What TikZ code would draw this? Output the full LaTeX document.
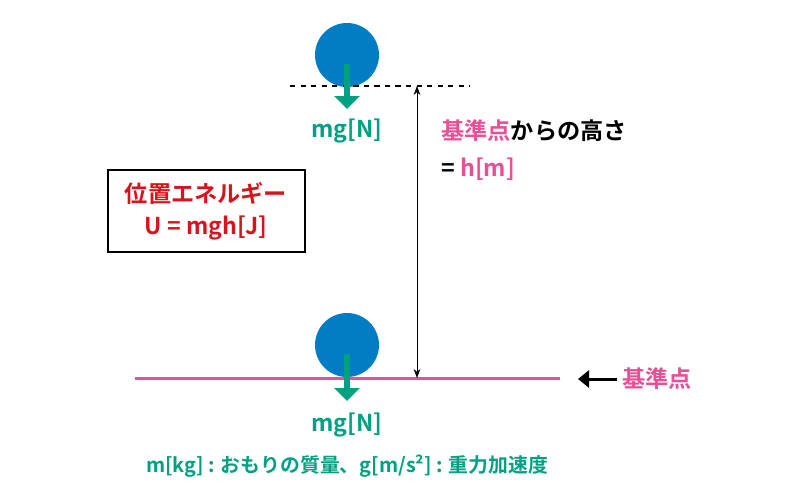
\documentclass[tikz,border=0pt]{standalone}
\usepackage{fontspec}
\setmainfont{Noto Sans CJK JP}[BoldFont={Noto Sans CJK JP Bold}]
\usetikzlibrary{arrows.meta}
\definecolor{ballblue}{RGB}{0,125,197}
\definecolor{forcegreen}{RGB}{0,160,130}
\definecolor{refpink}{RGB}{232,80,150}
\definecolor{titlered}{RGB}{215,20,30}
\tikzset{
  ball/.style={circle,fill=ballblue,minimum size=1.28cm,inner sep=0pt},
  force/.style={forcegreen,line width=1.3mm,-{Triangle[length=2.6mm,width=5mm]}},
  forcelabel/.style={text=forcegreen,font=\bfseries\fontsize{13.2}{15}\selectfont},
  txt/.style={font=\bfseries\fontsize{13.2}{15}\selectfont,inner sep=0pt}
}
\begin{document}
\begin{tikzpicture}[x=0.02cm,y=-0.02cm]
\useasboundingbox (0,0) rectangle (800,500);
% upper weight
\node[ball] (top) at (347,55) {};
\draw[dashed,thick] (290,86) -- (470,86);
\coordinate (topline) at (417,86);
\coordinate (topfrom) at (347,64);
\coordinate (topto) at (347,109);
\draw[force] (topfrom) -- (topto);
\node[forcelabel] (topmg) at (347,131) {mg[N]};
% lower weight
\node[ball] (bot) at (347,345) {};
\draw[refpink,line width=0.6mm] (135,378) -- (560,378);
\coordinate (botline) at (417,378);
\coordinate (botfrom) at (347,354);
\coordinate (botto) at (347,401);
\draw[force] (botfrom) -- (botto);
\node[forcelabel] (botmg) at (347,425) {mg[N]};
% height
\draw[{Stealth[length=1.8mm]}-{Stealth[length=1.8mm]},thin] (topline) -- (botline);
\node[txt,anchor=west] (height) at (441,131) {\textcolor{refpink}{基準点}からの高さ};
\node[txt,anchor=west] (hval) at (441,169) {= \textcolor{refpink}{h[m]}};
% energy box
\draw[line width=0.8pt] (108,170) rectangle (305,252);
\node[txt,text=titlered] (title) at (206,193) {位置エネルギー};
\node[txt,text=titlered] (formula) at (206,228) {U = mgh[J]};
% reference label
\node[txt,text=refpink,anchor=west] (ref) at (622,379) {基準点};
\coordinate (reffrom) at (617,379);
\coordinate (refto) at (578,379);
\draw[line width=0.6mm,-{Triangle[length=2.2mm,width=3.4mm]}] (reffrom) -- (refto);
% note
\node[txt,text=forcegreen,font=\bfseries\fontsize{11.3}{13}\selectfont] (note) at (347,466) {m[kg] : おもりの質量、g[m/s²] : 重力加速度};
\end{tikzpicture}
\end{document}
